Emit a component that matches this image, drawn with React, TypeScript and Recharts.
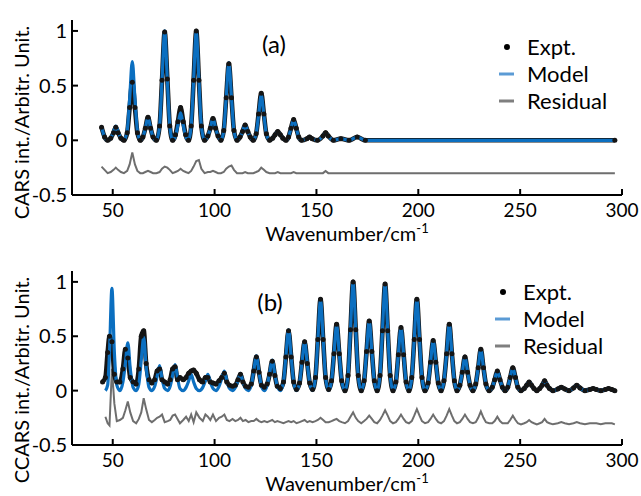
import React from 'react';
import { LineChart, Line, XAxis, YAxis, Label } from 'recharts';

const xTicks = [50, 100, 150, 200, 250, 300];
const yTicks = [-0.5, 0, 0.5, 1];

// panel (a): wavenumber grid, experiment, model, residual (offset)
const wnA = [
  44.5, 46, 47.5, 49, 50.4, 51.5, 52.6, 54, 55.5,
  57.1, 58.3, 59.6, 60.9, 62.1, 63.5,
  64.8, 66, 67.3, 68.6, 69.8, 71.4,
  73, 74.2, 75.5, 76.8, 78, 79.4,
  80.8, 82, 83.3, 84.6, 85.8, 87.2,
  88.5, 89.7, 91, 92.3, 93.5, 95.1,
  96.7, 97.9, 99.2, 100.5, 101.7, 103.1,
  104.5, 105.7, 107, 108.3, 109.5, 111,
  112.5, 113.7, 115, 116.3, 117.5, 119,
  120.4, 121.6, 122.9, 124.2, 125.4, 127,
  128.5, 129.7, 131, 132.3, 133.5, 135,
  136.3, 137.5, 138.8, 140.1, 141.3, 142.7,
  145.3, 146.6, 147.9, 150.5,
  153.2, 154.5, 155.8, 158.3,
  162, 166, 170, 174,
  296.5,
];
const modelA = [
  0.12, 0.03, 0, 0.02, 0.08, 0.13, 0.08, 0.02, 0,
  0.09, 0.38, 0.72, 0.38, 0.09, 0,
  0.03, 0.11, 0.21, 0.11, 0.03, 0,
  0.13, 0.55, 1.0, 0.55, 0.13, 0,
  0.04, 0.14, 0.25, 0.14, 0.04, 0,
  0.13, 0.55, 0.99, 0.55, 0.13, 0,
  0.04, 0.11, 0.2, 0.11, 0.04, 0,
  0.09, 0.39, 0.71, 0.39, 0.09, 0,
  0.03, 0.08, 0.14, 0.08, 0.03, 0,
  0.06, 0.23, 0.41, 0.23, 0.06, 0,
  0.02, 0.05, 0.08, 0.05, 0.02, 0,
  0.03, 0.11, 0.19, 0.11, 0.03, 0,
  0.015, 0.03, 0.015, 0,
  0.04, 0.07, 0.04, 0,
  0.015, 0, 0.03, 0,
  0,
];
const exptA = [
  0.12, 0.03, 0, 0.02, 0.07, 0.12, 0.07, 0.02, 0,
  0.07, 0.3, 0.53, 0.3, 0.07, 0,
  0.03, 0.11, 0.21, 0.11, 0.03, 0,
  0.13, 0.55, 0.99, 0.56, 0.13, 0,
  0.05, 0.17, 0.3, 0.17, 0.05, 0,
  0.13, 0.55, 1.0, 0.55, 0.13, 0,
  0.04, 0.11, 0.2, 0.11, 0.04, 0,
  0.09, 0.39, 0.7, 0.39, 0.09, 0,
  0.03, 0.08, 0.14, 0.08, 0.03, 0,
  0.06, 0.24, 0.43, 0.24, 0.06, 0,
  0.02, 0.05, 0.08, 0.05, 0.02, 0,
  0.03, 0.11, 0.19, 0.11, 0.03, 0,
  0.015, 0.03, 0.015, 0,
  0.04, 0.07, 0.04, 0,
  0.015, 0, 0.03, 0,
  0,
];
const residA = [
  -0.24, -0.27, -0.3, -0.29, -0.27, -0.25, -0.27, -0.29, -0.3,
  -0.28, -0.22, -0.11, -0.22, -0.28, -0.3,
  -0.3, -0.29, -0.28, -0.29, -0.3, -0.3,
  -0.29, -0.26, -0.24, -0.25, -0.27, -0.3,
  -0.29, -0.28, -0.26, -0.28, -0.29, -0.3,
  -0.28, -0.24, -0.19, -0.18, -0.26, -0.3,
  -0.29, -0.29, -0.28, -0.29, -0.3, -0.3,
  -0.29, -0.26, -0.24, -0.23, -0.27, -0.3,
  -0.3, -0.3, -0.29, -0.3, -0.3, -0.3,
  -0.29, -0.28, -0.25, -0.27, -0.29, -0.3,
  -0.3, -0.3, -0.29, -0.3, -0.3, -0.3,
  -0.3, -0.3, -0.29, -0.3, -0.3, -0.3,
  -0.3, -0.3, -0.3, -0.3,
  -0.3, -0.28, -0.3, -0.3,
  -0.3, -0.3, -0.3, -0.3,
  -0.3,
];

// panel (b)
const wnB = [
  45.0, 46.4, 47.5, 48.4, 49.6, 50.8, 52.0, 53.5,
  55.0, 56.2, 57.4, 58.6, 60.0, 61.5,
  62.8, 64.0, 65.2, 66.4, 67.8, 69.2,
  70.6, 71.8, 73.0, 74.2, 75.5, 77.0,
  78.2, 79.4, 80.6, 81.8, 83.0, 84.6,
  86.0, 87.3, 88.5, 89.7, 91.0, 92.6,
  94.2, 95.5, 96.7, 97.9, 99.2, 100.7,
  102.2, 103.5, 104.8, 106.0, 107.3, 108.8,
  110.2, 111.5, 112.7, 113.9, 115.2, 116.6,
  118.0, 119.2, 120.5, 121.8, 123.0, 124.4,
  125.8, 127.0, 128.3, 129.6, 130.8, 132.3,
  133.8, 135.0, 136.3, 137.6, 138.8, 140.2,
  141.7, 142.9, 144.2, 145.5, 146.7, 148.1,
  149.5, 150.7, 152.0, 153.3, 154.5, 156.0,
  157.4, 158.6, 159.9, 161.2, 162.4, 164.0,
  165.5, 166.7, 168.0, 169.3, 170.5, 172.0,
  173.4, 174.6, 175.9, 177.2, 178.4, 179.8,
  181.2, 182.4, 183.7, 185.0, 186.2, 187.6,
  189.0, 190.2, 191.5, 192.8, 194.0, 195.4,
  196.8, 198.0, 199.3, 200.6, 201.8, 203.3,
  204.8, 206.0, 207.3, 208.6, 209.8, 211.2,
  212.6, 213.9, 215.2, 216.5, 217.7, 219.0,
  220.4, 221.6, 222.9, 224.2, 225.4, 226.8,
  228.2, 229.4, 230.7, 232.0, 233.2, 234.8,
  236.3, 237.5, 238.8, 240.1, 241.3, 242.6,
  243.9, 245.1, 246.4, 247.7, 248.9, 250.4,
  252.0, 253.2, 254.4, 255.6, 256.8, 258.2,
  259.6, 260.8, 262.0, 263.2, 264.4, 266.1,
  268.5, 270.2, 271.9, 274.0,
  276.2, 277.8, 279.4, 281.8,
  284.2, 285.8, 287.4, 289.6,
  291.8, 293.4, 295.0, 296.5,
];
const modelB = [
  null, 0, 0.05, 0.35, 0.94, 0.35, 0.05, 0,
  0.08, 0.25, 0.44, 0.2, 0.03, 0,
  0.06, 0.28, 0.49, 0.22, 0.03, 0,
  0.04, 0.13, 0.23, 0.11, 0.02, 0,
  0.04, 0.14, 0.24, 0.12, 0.02, 0,
  0.03, 0.09, 0.15, 0.08, 0.02, 0,
  0.03, 0.09, 0.15, 0.08, 0.02, 0,
  0.04, 0.11, 0.18, 0.09, 0.02, 0,
  0.03, 0.09, 0.16, 0.08, 0.02, 0,
  0.05, 0.18, 0.32, 0.17, 0.04, 0,
  0.05, 0.16, 0.28, 0.15, 0.04, 0,
  0.08, 0.32, 0.56, 0.31, 0.08, 0,
  0.07, 0.26, 0.45, 0.25, 0.07, 0,
  0.12, 0.47, 0.84, 0.47, 0.12, 0,
  0.09, 0.34, 0.6, 0.34, 0.09, 0,
  0.14, 0.56, 1.0, 0.56, 0.14, 0,
  0.09, 0.36, 0.64, 0.36, 0.09, 0,
  0.14, 0.55, 0.98, 0.55, 0.14, 0,
  0.08, 0.33, 0.58, 0.33, 0.08, 0,
  0.12, 0.47, 0.84, 0.47, 0.12, 0,
  0.07, 0.26, 0.46, 0.26, 0.07, 0,
  0.09, 0.34, 0.61, 0.34, 0.09, 0,
  0.05, 0.17, 0.31, 0.17, 0.05, 0,
  0.06, 0.21, 0.38, 0.21, 0.06, 0,
  0.03, 0.1, 0.18, 0.1, 0.03, 0,
  0.03, 0.12, 0.21, 0.12, 0.03, 0,
  0.02, 0.05, 0.08, 0.05, 0.02, 0,
  0.02, 0.05, 0.09, 0.05, 0.02, 0,
  0.015, 0.03, 0.015, 0,
  0.025, 0.05, 0.025, 0,
  0.01, 0.02, 0.01, 0,
  0.01, 0.02, 0.01, 0,
];
const exptB = [
  0.08, 0.12, 0.35, 0.5, 0.45, 0.15, 0.08, 0.08,
  0.2, 0.38, 0.3, 0.12, 0.08, 0.06,
  0.2, 0.5, 0.55, 0.25, 0.1, 0.07,
  0.1, 0.18, 0.2, 0.1, 0.08, 0.06,
  0.1, 0.2, 0.22, 0.1, 0.12, 0.1,
  0.12, 0.16, 0.18, 0.19, 0.16, 0.1,
  0.08, 0.12, 0.12, 0.08, 0.07, 0.06,
  0.09, 0.12, 0.16, 0.08, 0.05, 0.04,
  0.05, 0.1, 0.15, 0.08, 0.04, 0.03,
  0.06, 0.18, 0.31, 0.17, 0.05, 0.03,
  0.06, 0.15, 0.27, 0.14, 0.04, 0.02,
  0.08, 0.31, 0.55, 0.31, 0.08, 0.01,
  0.07, 0.26, 0.45, 0.25, 0.07, 0.01,
  0.12, 0.47, 0.84, 0.47, 0.12, 0.01,
  0.09, 0.34, 0.61, 0.34, 0.09, 0,
  0.14, 0.56, 1.0, 0.56, 0.14, 0,
  0.09, 0.36, 0.64, 0.36, 0.09, 0,
  0.14, 0.55, 0.98, 0.55, 0.14, 0,
  0.08, 0.33, 0.58, 0.33, 0.08, 0,
  0.12, 0.47, 0.84, 0.47, 0.12, 0,
  0.07, 0.26, 0.46, 0.26, 0.07, 0,
  0.09, 0.34, 0.61, 0.34, 0.09, 0,
  0.05, 0.17, 0.31, 0.17, 0.05, 0,
  0.06, 0.21, 0.38, 0.21, 0.06, 0,
  0.03, 0.1, 0.18, 0.1, 0.03, 0,
  0.03, 0.12, 0.21, 0.12, 0.03, 0,
  0.02, 0.05, 0.08, 0.05, 0.02, 0,
  0.02, 0.05, 0.09, 0.05, 0.02, 0,
  0.015, 0.03, 0.015, 0,
  0.025, 0.05, 0.025, 0,
  0.01, 0.02, 0.01, 0,
  0.01, 0.02, 0.01, 0,
];
const residB = [
  null, -0.24, -0.3, -0.32, 0.2, -0.12, -0.28, -0.27,
  -0.25, -0.18, -0.1, -0.2, -0.28, -0.3,
  -0.26, -0.2, -0.07, -0.17, -0.27, -0.29,
  -0.27, -0.25, -0.24, -0.22, -0.29, -0.28,
  -0.27, -0.23, -0.22, -0.26, -0.3, -0.27,
  -0.24, -0.28, -0.22, -0.29, -0.2, -0.25,
  -0.28, -0.22, -0.24, -0.27, -0.22, -0.28,
  -0.25, -0.24, -0.22, -0.27, -0.28, -0.26,
  -0.28, -0.27, -0.25, -0.28, -0.27, -0.29,
  -0.28, -0.28, -0.26, -0.28, -0.29, -0.28,
  -0.29, -0.28, -0.27, -0.29, -0.28, -0.29,
  -0.3, -0.29, -0.28, -0.29, -0.28, -0.3,
  -0.29, -0.28, -0.27, -0.29, -0.28, -0.29,
  -0.28, -0.27, -0.25, -0.27, -0.29, -0.29,
  -0.28, -0.27, -0.26, -0.28, -0.29, -0.3,
  -0.28, -0.24, -0.2, -0.25, -0.28, -0.3,
  -0.28, -0.26, -0.23, -0.26, -0.29, -0.3,
  -0.27, -0.23, -0.18, -0.23, -0.28, -0.3,
  -0.29, -0.26, -0.22, -0.26, -0.29, -0.3,
  -0.28, -0.23, -0.17, -0.23, -0.28, -0.3,
  -0.29, -0.26, -0.22, -0.26, -0.29, -0.3,
  -0.28, -0.23, -0.17, -0.23, -0.28, -0.3,
  -0.29, -0.26, -0.22, -0.26, -0.29, -0.3,
  -0.29, -0.25, -0.19, -0.25, -0.29, -0.3,
  -0.3, -0.28, -0.24, -0.28, -0.3, -0.3,
  -0.3, -0.27, -0.23, -0.27, -0.3, -0.31,
  -0.3, -0.29, -0.27, -0.29, -0.3, -0.31,
  -0.3, -0.29, -0.26, -0.29, -0.3, -0.31,
  -0.3, -0.29, -0.3, -0.31,
  -0.3, -0.29, -0.3, -0.31,
  -0.3, -0.3, -0.3, -0.31,
  -0.3, -0.3, -0.3, -0.31,
];

const rowsA = wnA.map((x, i) => ({ x, expt: exptA[i], model: modelA[i], resid: residA[i] }));
const rowsB = wnB.map((x, i) => ({ x, expt: exptB[i], model: modelB[i], resid: residB[i] }));

const FONT = 'Lato, "Open Sans", sans-serif';
const MODEL = '#0b6fc0';
const RESID = '#6e6e6e';

const BottomTick = (props: any) => {
  const { x, y, payload } = props;
  return (
    <g>
      <line x1={x} x2={x} y1={y} y2={y - 6} stroke="#000" strokeWidth={2} />
      <text x={x} y={y + 15} dy="0.35em" textAnchor="middle" fontSize={19} fontFamily={FONT} fill="#000">
        {payload.value}
      </text>
    </g>
  );
};

const TopTick = (props: any) => {
  const { x, y } = props;
  return <line x1={x} x2={x} y1={y + 5} y2={y + 7} stroke="#c8c8c8" strokeWidth={1} />;
};

const LeftTick = (props: any) => {
  const { x, y, payload } = props;
  return (
    <g>
      <line x1={x} x2={x + 6} y1={y} y2={y} stroke="#000" strokeWidth={2} />
      <text x={x - 5} y={y} dy="0.35em" textAnchor="end" fontSize={20} fontFamily={FONT} fill="#000">
        {String(payload.value)}
      </text>
    </g>
  );
};

const xLabel = (props: any) => {
  const { viewBox } = props;
  const cx = viewBox.x + viewBox.width / 2;
  return (
    <text x={cx} y={viewBox.y + 46} textAnchor="middle" fontSize={20} fontFamily={FONT} fill="#000">
      Wavenumber/cm<tspan dy={-8} fontSize={13}>-1</tspan>
    </text>
  );
};

const makeYLabel = (text: string, shift: number) => (props: any) => {
  const { viewBox } = props;
  const x = 21;
  const y = viewBox.y + viewBox.height / 2 + shift;
  return (
    <text x={x} y={y} transform={`rotate(-90 ${x} ${y})`} textAnchor="middle" dominantBaseline="central"
      fontSize={20} fontFamily={FONT} fill="#000">
      {text}
    </text>
  );
};

const axisStroke = { stroke: '#000', strokeWidth: 2 };

const Panel = ({ rows, top, bottom, yText, yShift }: any) => (
  <LineChart width={641} height={248} data={rows} margin={{ top, right: 19, bottom: 0, left: 0 }}>
    <XAxis dataKey="x" type="number" domain={[30, 300]} ticks={xTicks} interval={0} tickSize={0} tickMargin={0}
      height={bottom} axisLine={axisStroke} tick={<BottomTick />} allowDataOverflow>
      <Label content={xLabel} />
    </XAxis>
    <XAxis xAxisId="top" orientation="top" type="number" domain={[30, 300]} ticks={xTicks} interval={0}
      tickSize={0} tickMargin={0} height={0} axisLine={axisStroke} tick={<TopTick />} />
    <YAxis type="number" domain={[-0.5, 1.1]} ticks={yTicks} interval={0} tickSize={0} tickMargin={0}
      width={72} axisLine={axisStroke} tick={<LeftTick />} allowDataOverflow>
      <Label content={makeYLabel(yText, yShift)} />
    </YAxis>
    <YAxis yAxisId="r" orientation="right" type="number" domain={[-0.5, 1.1]} width={0}
      axisLine={axisStroke} tick={false} tickLine={false} />
    <Line dataKey="resid" type="linear" stroke={RESID} strokeWidth={2} dot={false} isAnimationActive={false} />
    <Line dataKey="expt" type="monotone" stroke="#151515" strokeWidth={4.6}
      dot={{ r: 2.5, fill: '#151515', stroke: 'none' }} isAnimationActive={false} />
    <Line dataKey="model" type="monotone" stroke={MODEL} strokeWidth={3.2} dot={false} isAnimationActive={false} />
  </LineChart>
);

const LegendBox = ({ dotX, y0, step, tag, tagX, tagY }: any) => (
  <g fontFamily={FONT} fontSize={22} fill="#000">
    <text x={tagX} y={tagY} dy="0.35em" textAnchor="middle" fontSize={24}>{tag}</text>
    <circle cx={dotX} cy={y0} r={3} fill="#000" />
    <line x1={dotX - 8} x2={dotX + 7} y1={y0 + step} y2={y0 + step} stroke="#5b9bd5" strokeWidth={3} />
    <line x1={dotX - 8} x2={dotX + 7} y1={y0 + 2 * step} y2={y0 + 2 * step} stroke="#7f7f7f" strokeWidth={3} />
    <text x={dotX + 20} y={y0} dy="0.35em">Expt.</text>
    <text x={dotX + 20} y={y0 + step} dy="0.35em">Model</text>
    <text x={dotX + 20} y={y0 + 2 * step} dy="0.35em">Residual</text>
  </g>
);

export default function App() {
  return (
    <div style={{ position: 'absolute', left: 0, top: 0, width: 641, height: 496, background: '#fff' }}>
      <div style={{ position: 'absolute', left: 0, top: 0 }}>
        <Panel rows={rowsA} top={20} bottom={53} yText="CARS int./Arbitr. Unit." yShift={15} />
      </div>
      <div style={{ position: 'absolute', left: 0, top: 248 }}>
        <Panel rows={rowsB} top={23} bottom={51} yText="CCARS int./Arbitr. Unit." yShift={22} />
      </div>
      <svg width={641} height={496} style={{ position: 'absolute', left: 0, top: 0, pointerEvents: 'none' }}>
        <LegendBox dotX={507} y0={47} step={27} tag="(a)" tagX={274} tagY={45} />
        <LegendBox dotX={503} y0={292} step={27} tag="(b)" tagX={270} tagY={303} />
      </svg>
    </div>
  );
}
